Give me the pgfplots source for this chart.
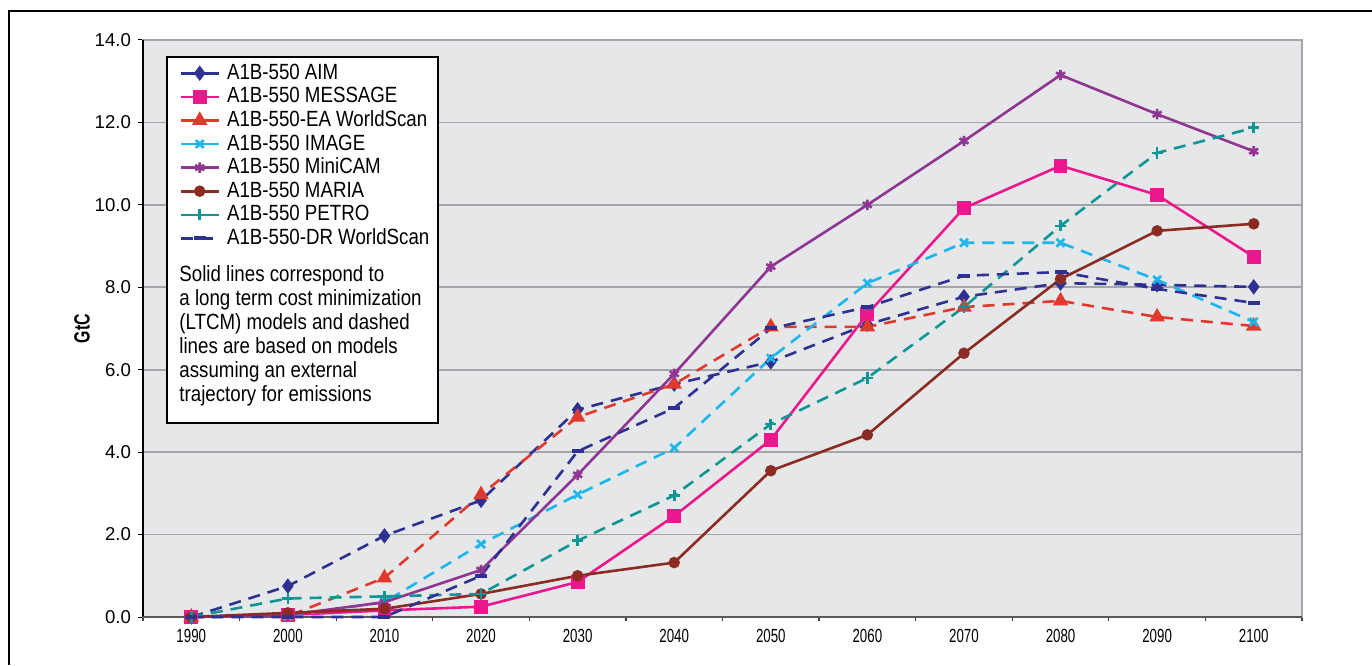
\documentclass[border=0pt]{standalone}
\usepackage{fontspec}
\setmainfont{Liberation Sans}
\newfontfamily\legfont{Liberation Sans}[FakeStretch=0.85]
\newfontfamily\xfont{Liberation Sans}[FakeStretch=0.7]
\newfontfamily\labfont{Liberation Sans}[FakeStretch=0.72]
\usepackage{pgfplots}
\pgfplotsset{compat=1.18}
\definecolor{cAIM}{HTML}{2E3192}
\definecolor{cMES}{HTML}{EC178C}
\definecolor{cEA}{HTML}{E03A2E}
\definecolor{cIMG}{HTML}{1CB5EC}
\definecolor{cMIN}{HTML}{8F3592}
\definecolor{cMAR}{HTML}{8B2B22}
\definecolor{cPET}{HTML}{0E9696}
\definecolor{cDR}{HTML}{2E3192}
\definecolor{bgc}{HTML}{E6E7E8}
\definecolor{gridc}{HTML}{A3A5A8}
\begin{document}
\begin{tikzpicture}
\useasboundingbox (-71.5pt,-24pt) rectangle (614.5pt,308.5pt);
\draw[black, line width=0.7pt] (-67pt,-24pt) -- (-67pt,303pt) -- (614.5pt,303pt);
\begin{axis}[
  at={(0,0)}, anchor=south west, scale only axis,
  width=579.5pt, height=288.5pt,
  xmin=-0.5, xmax=11.5, ymin=0, ymax=14,
  clip=false,
  axis background/.style={fill=bgc},
  axis line style={draw=gridc, line width=0.8pt},
  xtick pos=bottom, ytick pos=left,
  xtick={0,...,11},
  xticklabels={1990,2000,2010,2020,2030,2040,2050,2060,2070,2080,2090,2100},
  major x tick style={draw=none},
  minor xtick={-0.5,0.5,...,11.5},
  minor x tick style={draw=black!75, line width=0.6pt},
  minor tick length=2pt,
  ytick={0,2,...,14},
  tick align=outside,
  major tick length=2.5pt,
  ytick style={draw=black, line width=0.5pt},
  ymajorgrids, grid style={draw=gridc, line width=0.8pt},
  /pgf/number format/assume math mode=true,
  yticklabel style={font=\fontsize{9.3}{10}\selectfont, /pgf/number format/fixed, /pgf/number format/fixed zerofill, /pgf/number format/precision=1},
  xticklabel style={font=\fontsize{9.5}{10}\xfont},
  every axis y label/.style={at={(axis description cs:-0.0526,0.5)}, rotate=90, anchor=center, font=\fontsize{11}{12}\labfont\bfseries},
  ylabel={GtC},
  legend image code/.code={\draw[mark repeat=2,mark phase=2,#1] plot coordinates {(0pt,0pt) (9.5pt,0pt) (19pt,0pt)};},
  legend cell align=left,
  legend style={at={(axis description cs:0.0311,0.9636)}, anchor=north west, draw=none, fill=none, inner sep=0pt, column sep=3.5pt,
    font=\fontsize{11}{12}\legfont,
    nodes={inner xsep=0pt, inner ysep=0.9pt, text height=8pt, text depth=2pt}},
  every axis plot/.append style={line width=1.3pt, mark options={solid}},
]
\draw[black, line width=0.6pt] (axis description cs:0,0) -- (axis description cs:0,1);
\draw[black!65, line width=1.3pt] (axis description cs:0,0) -- (axis description cs:1,0);
\draw[black, line width=0.6pt, fill=white] (axis description cs:0.0207,0.3362) rectangle (axis description cs:0.2545,0.9705);
\node[anchor=north west, inner sep=0pt, align=left, font=\fontsize{11}{12}\legfont] at (axis description cs:0.0311,0.610)
  {Solid lines correspond to\\a long term cost minimization\\(LTCM) models and dashed\\lines are based on models\\assuming an external\\trajectory for emissions};

\addplot[color=cAIM, dash pattern=on 6pt off 4pt, mark=diamond*, mark size=2.8pt, legend image post style={solid}]
  coordinates {(0,0.0) (1,0.75) (2,1.97) (3,2.83) (4,5.03) (5,5.65) (6,6.19) (7,7.10) (8,7.77) (9,8.10) (10,8.06) (11,8.01)};
\addlegendentry{A1B-550 AIM}
\addplot[color=cMES, solid, mark=square*, mark size=2.8pt]
  coordinates {(0,0.0) (1,0.05) (2,0.16) (3,0.25) (4,0.85) (5,2.45) (6,4.30) (7,7.35) (8,9.92) (9,10.95) (10,10.24) (11,8.74)};
\addlegendentry{A1B-550 MESSAGE}
\addplot[color=cEA, dash pattern=on 6pt off 4pt, mark=triangle*, mark size=3.2pt, legend image post style={solid}]
  coordinates {(0,0.0) (1,0.02) (2,0.95) (3,2.97) (4,4.85) (5,5.65) (6,7.04) (7,7.04) (8,7.52) (9,7.67) (10,7.28) (11,7.06)};
\addlegendentry{A1B-550-EA WorldScan}
\addplot[color=cIMG, dash pattern=on 6pt off 4pt, mark=x, mark size=2.8pt, legend image post style={solid}]
  coordinates {(0,0.0) (1,0.02) (2,0.36) (3,1.77) (4,2.97) (5,4.10) (6,6.28) (7,8.10) (8,9.08) (9,9.08) (10,8.18) (11,7.16)};
\addlegendentry{A1B-550 IMAGE}
\addplot[color=cMIN, solid, mark=asterisk, mark size=2.6pt]
  coordinates {(0,0.0) (1,0.05) (2,0.36) (3,1.14) (4,3.45) (5,5.90) (6,8.50) (7,10.00) (8,11.55) (9,13.15) (10,12.20) (11,11.30)};
\addlegendentry{A1B-550 MiniCAM}
\addplot[color=cMAR, solid, mark=*, mark size=2.2pt]
  coordinates {(0,0.0) (1,0.10) (2,0.20) (3,0.56) (4,1.00) (5,1.32) (6,3.55) (7,4.42) (8,6.40) (9,8.20) (10,9.37) (11,9.54)};
\addlegendentry{A1B-550 MARIA}
\addplot[color=cPET, dash pattern=on 6pt off 4pt, mark=+, mark size=2.8pt, legend image post style={solid}]
  coordinates {(0,0.0) (1,0.45) (2,0.50) (3,0.56) (4,1.85) (5,2.95) (6,4.68) (7,5.80) (8,7.52) (9,9.49) (10,11.26) (11,11.87)};
\addlegendentry{A1B-550 PETRO}
\addplot[color=cDR, dash pattern=on 6pt off 4pt, mark=-, mark size=3pt, mark options={solid, line width=2pt}]
  coordinates {(0,0.0) (1,0.0) (2,0.0) (3,1.00) (4,4.02) (5,5.07) (6,7.00) (7,7.52) (8,8.28) (9,8.37) (10,7.96) (11,7.62)};
\addlegendentry{A1B-550-DR WorldScan}
\end{axis}
\end{tikzpicture}
\end{document}
